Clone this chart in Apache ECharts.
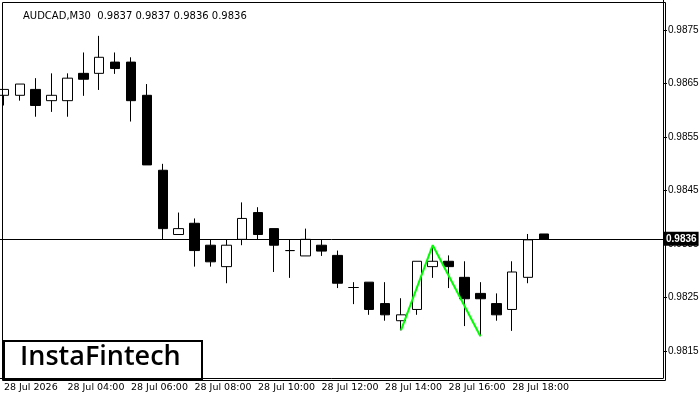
<!DOCTYPE html>
<html><head><meta charset="utf-8">
<script src="https://cdn.jsdelivr.net/npm/echarts@6/dist/echarts.min.js"></script>
<style>body{margin:0}#c{width:700px;height:400px}</style></head>
<body><div id="c"></div>
<script>
// [open, close, low, high]
const candles = [
  [0.98628,0.98639,0.98609,0.98639],[0.98628,0.98649,0.98618,0.98649],[0.98639,0.98609,0.98588,0.98660],
  [0.98618,0.98628,0.98597,0.98669],[0.98618,0.98660,0.98588,0.98669],[0.98669,0.98658,0.98627,0.98708],
  [0.98669,0.98699,0.98638,0.98739],[0.98690,0.98678,0.98668,0.98708],[0.98690,0.98618,0.98579,0.98699],
  [0.98628,0.98498,0.98498,0.98649],[0.98488,0.98379,0.98359,0.98500],[0.98368,0.98379,0.98368,0.98409],
  [0.98389,0.98338,0.98308,0.98398],[0.98348,0.98317,0.98308,0.98359],[0.98308,0.98348,0.98277,0.98359],
  [0.98359,0.98398,0.98348,0.98428],[0.98409,0.98368,0.98359,0.98419],[0.98379,0.98348,0.98298,0.98379],
  [0.98338,0.98338,0.98287,0.98359],[0.98328,0.98359,0.98328,0.98379],[0.98348,0.98337,0.98328,0.98359],
  [0.98329,0.98277,0.98268,0.98338],[0.98269,0.98269,0.98238,0.98279],[0.98279,0.98228,0.98218,0.98279],
  [0.98239,0.98218,0.98207,0.98279],[0.98207,0.98218,0.98189,0.98249],[0.98228,0.98318,0.98218,0.98318],
  [0.98308,0.98318,0.98287,0.98348],[0.98318,0.98308,0.98268,0.98329],[0.98288,0.98248,0.98197,0.98318],
  [0.98258,0.98248,0.98178,0.98279],[0.98239,0.98218,0.98207,0.98258],[0.98228,0.98298,0.98188,0.98318],
  [0.98288,0.98358,0.98277,0.98369],[0.98369,0.98359,0.98359,0.98369]
];
const patternIdx = [25, 27, 30];
const patternPrice = [0.98189, 0.98348, 0.98178];
const yTicks = [0.9815, 0.9825, 0.9835, 0.9845, 0.9855, 0.9865, 0.9875];
const lastPrice = 0.9836;
const totalSlots = 42;
const lastLabelIdx = 32;

const cats = [];
for (let i = 0; i < totalSlots; i++) {
  const m = 120 + i * 30;
  const h = String(Math.floor(m / 60)).padStart(2, '0');
  cats.push(i === 0 ? '28 Jul 2026' : '28 Jul ' + h + ':' + (m % 60 === 0 ? '00' : '30'));
}
const pattern = cats.map((c, i) => {
  const k = patternIdx.indexOf(i);
  return k < 0 ? null : patternPrice[k];
});

const chart = echarts.init(document.getElementById('c'));
chart.setOption({
  animation: false,
  backgroundColor: '#fff',
  textStyle: {fontFamily: 'Liberation Sans, sans-serif'},
  title: {text: 'AUDCAD,M30  0.9837 0.9837 0.9836 0.9836', left: 18, top: 6,
    textStyle: {fontSize: 10, fontWeight: 'normal', color: '#000', fontFamily: 'DejaVu Sans'}},
  grid: {left: -4, right: 37, top: 0, bottom: 22, show: false, outerBoundsMode: 'none', containLabel: false},
  xAxis: {
    type: 'category', data: cats, boundaryGap: true,
    axisLine: {lineStyle: {color: '#000'}},
    axisTick: {interval: (i) => i % 4 === 0 && i <= lastLabelIdx, alignWithLabel: true, lineStyle: {color: '#000'}},
    axisLabel: {interval: (i) => i % 4 === 0 && i <= lastLabelIdx, align: 'left', margin: 5,
      color: '#000', fontFamily: 'DejaVu Sans', fontSize: 9.5}
  },
  yAxis: {
    type: 'value', position: 'right', min: 0.98100, max: 0.98806, scale: true,
    splitLine: {show: false},
    axisLine: {show: true, lineStyle: {color: '#000'}},
    axisTick: {show: true, length: 4, customValues: yTicks, lineStyle: {color: '#000'}},
    axisLabel: {customValues: yTicks, fontSize: 10, color: '#000', margin: 5,
      formatter: v => v.toFixed(4)}
  },
  series: [{
    type: 'candlestick', data: candles, barWidth: 10, z: 3,
    itemStyle: {color: '#fff', color0: '#000', borderColor: '#000', borderColor0: '#000', borderWidth: 1},
    markLine: {
      symbol: ['none', 'none'], silent: true, animation: false,
      lineStyle: {color: '#000', type: 'solid', width: 1},
      label: {show: true, position: 'end', formatter: '0.9836', backgroundColor: '#000', color: '#fff',
        fontSize: 10, fontWeight: 'bold', padding: [2, 2], distance: 1},
      data: [[{coord: [0, lastPrice], x: 0}, {coord: [totalSlots - 1, lastPrice], x: 663}]]
    }
  }, {
    type: 'line', data: pattern, connectNulls: true, symbol: 'none', z: 4,
    lineStyle: {color: '#00ff00', width: 2}
  }],
  graphic: [
    {type: 'rect', left: 0, top: 0, shape: {width: 663, height: 378}, z: 100,
      style: {fill: 'none', stroke: '#000', lineWidth: 1}},
    {type: 'rect', left: 3, top: 340, shape: {width: 198, height: 38}, z: 101,
      style: {fill: '#fff', stroke: '#000', lineWidth: 2}},
    {type: 'text', left: 20, top: 344, z: 102,
      style: {text: 'InstaFintech', fill: '#000', font: '600 27px "Open Sans", sans-serif'}}
  ]
});
</script></body></html>
